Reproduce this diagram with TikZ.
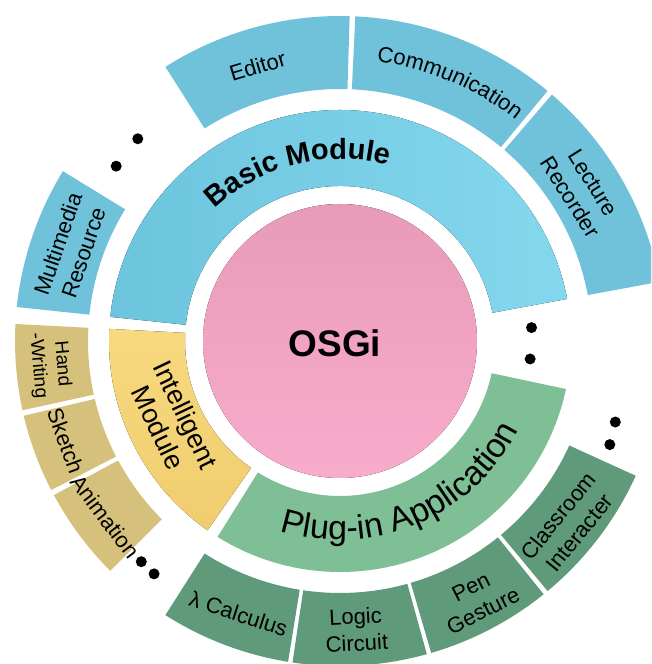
\documentclass[tikz,border=0pt]{standalone}
\usepackage{fontspec}
\setmainfont{Liberation Sans}
\usetikzlibrary{decorations.text}
\definecolor{pinkA}{HTML}{E89BB9}
\definecolor{pinkB}{HTML}{F8ACCB}
\definecolor{blueInL}{HTML}{6CC4DD}
\definecolor{blueInR}{HTML}{84D8EE}
\definecolor{blueOut}{HTML}{6FC2D9}
\definecolor{yelInA}{HTML}{F7D97F}
\definecolor{yelInB}{HTML}{F0CD6E}
\definecolor{yelOut}{HTML}{D6C17C}
\definecolor{grnIn}{HTML}{7EBF95}
\definecolor{grnOut}{HTML}{5F9A7B}
\newcommand{\ringseg}[5]{\fill[#1] (#2:#4) arc[start angle=#2, end angle=#3, radius=#4] -- (#3:#5) arc[start angle=#3, end angle=#2, radius=#5] -- cycle;}
\tikzset{
  outlbl/.style={font=\fontsize{22}{27}\selectfont, align=center, inner sep=0pt, text=black},
  inlbl/.style={font=\fontsize{27}{30}\selectfont, align=center, inner sep=0pt, text=black},
  dotmark/.style={fill=black},
}
\begin{document}
\begin{tikzpicture}[x=1pt,y=1pt]
\useasboundingbox (0,0) rectangle (651,664);
\clip (0,0) rectangle (651,664);
\begin{scope}[shift={(340,323)}]
  % centre
  \fill[top color=pinkA,bottom color=pinkB] (0,0) circle[radius=137];
  \node[font=\fontsize{37}{40}\selectfont\bfseries, inner sep=0pt] (osgi) at (-5,-2) {OSGi};
  % inner ring
  \ringseg{left color=blueInL,right color=blueInR}{10.5}{174}{155}{231}
  \ringseg{top color=yelInA,bottom color=yelInB}{177}{235}{155}{231}
  \ringseg{fill=grnIn}{238}{348}{155}{231}
  % outer ring
  \ringseg{fill=blueOut}{10.5}{49.3}{252}{325}
  \ringseg{fill=blueOut}{50.3}{87.3}{252}{325}
  \ringseg{fill=blueOut}{88.3}{122.5}{252}{325}
  \ringseg{fill=blueOut}{148.5}{174}{252}{325}
  \ringseg{fill=yelOut}{177}{192.3}{252}{325}
  \ringseg{fill=yelOut}{193.3}{207.3}{252}{325}
  \ringseg{fill=yelOut}{208.3}{225}{252}{325}
  \ringseg{fill=grnOut}{237.5}{260.8}{252}{325}
  \ringseg{fill=grnOut}{261.6}{285.5}{252}{325}
  \ringseg{fill=grnOut}{286.3}{308.8}{252}{325}
  \ringseg{fill=grnOut}{309.7}{335.5}{252}{325}
  % dots
  \foreach \a/\r in {135/286,142/284,4/192,-5.4/191,-16.4/287,-21/289,228/297,231.4/298}
    \fill[dotmark] (\a:\r) circle[radius=5.5];
  % curved labels
  \path[decorate, decoration={text along path, text align=center,
        text={|\fontsize{29}{29}\selectfont\bfseries|Basic Module}}]
        (150:182) arc[start angle=150, end angle=58, radius=182];
  \path[decorate, decoration={text along path, text align=center,
        text={|\fontsize{34}{34}\selectfont|Plug-in Application}}]
        (225:199) arc[start angle=225, end angle=361, radius=199];
  \path[decorate, decoration={text along path, text align=center,
        text={|\fontsize{22}{22}\selectfont|Communication}}]
        (100:282) arc[start angle=100, end angle=34, radius=282];
  % straight labels
  \node[inlbl, rotate=-64.5] (intel) at (205.5:186) {Intelligent\\Module};
  \node[outlbl, rotate=16.7] (editor) at (106.7:287) {Editor};
  \node[outlbl, rotate=-58] (lecture) at (32:285) {Lecture\\Recorder};
  \node[outlbl, rotate=71] (multimedia) at (161:285) {Multimedia\\Resource};
  \node[outlbl, font=\fontsize{19}{24}\selectfont, rotate=-85] (hand) at (184.7:291) {Hand\\-Writing};
  \node[outlbl, rotate=-70] (sketch) at (200:292) {Sketch};
  \node[outlbl, rotate=-53] (anim) at (216.8:293) {Animation};
  \node[outlbl, rotate=-18] (lambda) at (249.6:291) {λ Calculus};
  \node[outlbl, rotate=3] (logic) at (273.2:289) {Logic\\Circuit};
  \node[outlbl, rotate=27] (pen) at (298:292) {Pen\\Gesture};
  \node[outlbl, rotate=51] (classroom) at (321.3:293) {Classroom\\Interacter};
\end{scope}
\end{tikzpicture}
\end{document}
